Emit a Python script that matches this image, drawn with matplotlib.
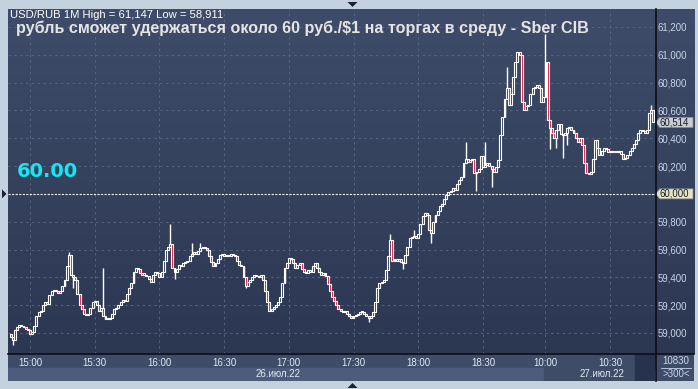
import numpy as np
import matplotlib
matplotlib.use("Agg")
import matplotlib.pyplot as plt
from matplotlib.patches import Rectangle, Polygon
from matplotlib.colors import LinearSegmentedColormap

W, H = 698, 389

# ---------------- data ----------------
header = "USD/RUB 1M High = 61,147 Low = 58,911"
headline = "рубль сможет удержаться около 60 руб./$1 на торгах в среду - Sber CIB"
level_label = "60.00"
level_value = 60.0
last_value = 60.514

time_labels = ["15:00", "15:30", "16:00", "16:30", "17:00", "17:30",
               "18:00", "18:30", "10:00", "10:30"]
time_label_idx = [9, 39, 69, 99, 129, 159, 189, 219, 248, 278]
date_labels = ["26.июл.22", "27.июл.22"]
session_start = [0, 248]
price_ticks = [59.0, 59.2, 59.4, 59.6, 59.8, 60.0, 60.2, 60.4, 60.6, 60.8, 61.0, 61.2]
volume_label = "10830"
range_label = ">300<"

first_open = 58.99
closes = [
    58.97, 58.95, 59.02, 59.04, 59.06, 59.05, 59.04, 59.03, 59.02, 58.99,
    59.01, 59.05, 59.12, 59.15, 59.16, 59.20, 59.22, 59.21, 59.27, 59.30,
    59.31, 59.30, 59.29, 59.30, 59.34, 59.38, 59.48, 59.56, 59.42, 59.40,
    59.38, 59.28, 59.20, 59.17, 59.14, 59.13, 59.14, 59.18, 59.22, 59.23,
    59.20, 59.16, 59.18, 59.12, 59.10, 59.10, 59.11, 59.14, 59.17, 59.18,
    59.20, 59.22, 59.24, 59.23, 59.28, 59.32, 59.36, 59.44, 59.47, 59.46,
    59.43, 59.42, 59.42, 59.41, 59.39, 59.37, 59.42, 59.44, 59.43, 59.40,
    59.44, 59.52, 59.60, 59.62, 59.64, 59.47, 59.44, 59.46, 59.49, 59.48,
    59.50, 59.51, 59.52, 59.55, 59.57, 59.58, 59.57, 59.59, 59.61, 59.61,
    59.61, 59.60, 59.55, 59.51, 59.48, 59.50, 59.53, 59.56, 59.57, 59.55,
    59.56, 59.55, 59.57, 59.56, 59.55, 59.52, 59.49, 59.48, 59.40, 59.34,
    59.37, 59.38, 59.40, 59.42, 59.41, 59.40, 59.42, 59.38, 59.30, 59.22,
    59.16, 59.17, 59.19, 59.20, 59.22, 59.26, 59.36, 59.47, 59.50, 59.54,
    59.53, 59.50, 59.47, 59.49, 59.50, 59.46, 59.44, 59.43, 59.45, 59.44,
    59.48, 59.50, 59.47, 59.44, 59.42, 59.43, 59.41, 59.35, 59.30, 59.26,
    59.23, 59.20, 59.17, 59.16, 59.15, 59.16, 59.14, 59.12, 59.11, 59.12,
    59.13, 59.14, 59.15, 59.15, 59.14, 59.12, 59.11, 59.12, 59.15, 59.22,
    59.32, 59.36, 59.37, 59.38, 59.45, 59.55, 59.67, 59.52, 59.53, 59.52,
    59.53, 59.51, 59.50, 59.56, 59.62, 59.68, 59.69, 59.70, 59.68, 59.71,
    59.78, 59.84, 59.86, 59.85, 59.74, 59.72, 59.80, 59.85, 59.88, 59.91,
    59.93, 59.96, 59.99, 60.01, 60.02, 60.04, 60.03, 60.07, 60.10, 60.12,
    60.22, 60.25, 60.23, 60.24, 60.25, 60.15, 60.16, 60.18, 60.27, 60.19,
    60.21, 60.22, 60.20, 60.18, 60.16, 60.19, 60.24, 60.42, 60.55, 60.68,
    60.76, 60.64, 60.72, 60.84, 60.95, 61.02, 61.00, 60.66, 60.60, 60.63,
    60.64, 60.72, 60.76, 60.77, 60.78, 60.76, 60.66, 60.70,
    60.95, 60.53, 60.47, 60.44, 60.40, 60.46, 60.50, 60.43, 60.42, 60.44,
    60.47, 60.48, 60.46, 60.44, 60.40, 60.37, 60.40, 60.35, 60.22, 60.15,
    60.14, 60.16, 60.25, 60.39, 60.33, 60.28, 60.31, 60.33, 60.32, 60.30,
    60.31, 60.30, 60.31, 60.30, 60.31, 60.29, 60.25, 60.26, 60.28, 60.31,
    60.33, 60.36, 60.39, 60.44, 60.46, 60.45, 60.44, 60.46, 60.58, 60.60,
    60.514,
]
wick_high = {27: 59.58, 43: 59.47, 74: 59.78, 84: 59.65, 88: 59.65, 176: 59.71,
             187: 59.74, 211: 60.37, 220: 60.37, 230: 60.91, 248: 61.147, 297: 60.64}
wick_low = {1: 58.911, 29: 59.32, 76: 59.39, 109: 59.32, 166: 59.08, 182: 59.46,
            195: 59.65, 216: 60.02, 223: 60.05, 250: 60.32, 253: 60.33, 256: 60.26,
            258: 60.35}

# ---------------- derived OHLC ----------------
n = len(closes)
idx = np.arange(n)
closes_a = np.array(closes)
opens_a = np.concatenate([[first_open], closes_a[:-1]])
highs = np.maximum(opens_a, closes_a)
lows = np.minimum(opens_a, closes_a)
for k, v in wick_high.items():
    highs[k] = max(highs[k], v)
for k, v in wick_low.items():
    lows[k] = min(lows[k], v)

# ---------------- figure ----------------
BORDER = "#c4d1df"
fig = plt.figure(figsize=(W / 100, H / 100), dpi=100)
fig.patch.set_facecolor(BORDER)

def fx(x):
    return x / W

def fy(y):
    return 1 - y / H

L, R, T, B = 8.3, 655.7, 9.0, 354.0
RP = 694.0      # right panel end
BB = 381.0      # bottom panel end
XMIN, XMAX = -1.06, 299.1
YMIN, YMAX = 58.849, 61.329

def xpix(i):
    return L + (i - XMIN) / (XMAX - XMIN) * (R - L)

def ypix(p):
    return T + (YMAX - p) / (YMAX - YMIN) * (B - T)

ax = fig.add_axes([fx(L), fy(B), (R - L) / W, (B - T) / H])
ax.set_xlim(XMIN, XMAX)
ax.set_ylim(YMIN, YMAX)

grad_cmap = LinearSegmentedColormap.from_list("bg", ["#2c3752", "#3e4c69"])
grad = np.linspace(0, 1, 256).reshape(-1, 1)
ax.imshow(grad, extent=[0, 1, 0, 1], transform=ax.transAxes, cmap=grad_cmap,
          aspect="auto", origin="lower", zorder=0)

# grid
for i in time_label_idx:
    ax.axvline(i, color="#56647f", lw=0.7, ls=(0, (2.5, 3.5)), zorder=1)
for p in price_ticks:
    if abs(p - level_value) > 1e-9:
        ax.axhline(p, color="#56647f", lw=0.7, ls=(0, (2.5, 3.5)), zorder=1)
ax.axhline(level_value, color="#f0f0f0", lw=0.8, ls=(0, (2, 1.2)), zorder=2)

# candles
ax.vlines(idx, lows, highs, color="white", lw=1.0, zorder=3)
up = closes_a >= opens_a
body_bot = np.minimum(opens_a, closes_a)
body_h = np.maximum(np.abs(closes_a - opens_a), 0.008)
face = np.where(up, "#2f3b57", "#e8123e")
ax.bar(idx, body_h, bottom=body_bot, width=0.9, color=face, edgecolor="white",
       linewidth=0.8, zorder=4)

for s in ax.spines.values():
    s.set_visible(False)
ax.set_xticks([])
ax.yaxis.tick_right()
shown_ticks = [p for p in price_ticks if abs(p - level_value) > 1e-9]
ax.set_yticks(shown_ticks)
ax.set_yticklabels([f"{p:.3f}".replace(".", ",") for p in shown_ticks],
                   fontsize=6.9, color="#c9d5ea", family="Liberation Sans")
ax.tick_params(axis="y", length=0, pad=1.6)

# right panel background
axr = fig.add_axes([fx(R), fy(B), (RP - R) / W, (B - T) / H], zorder=-1)
axr.imshow(grad, extent=[0, 1, 0, 1], transform=axr.transAxes, cmap=grad_cmap,
           aspect="auto", origin="lower")
axr.axis("off")

# bottom panel
axb = fig.add_axes([fx(L), fy(BB), (RP - L) / W, (BB - B) / H], zorder=-1)
axb.set_xlim(L, RP)
axb.set_ylim(BB, B)
axb.axis("off")
day2_x = xpix(session_start[1] - 0.5)
axb.add_patch(Rectangle((L, B), RP - L, 14, color="#3e4c68", zorder=0))
axb.add_patch(Rectangle((L, B + 14), day2_x - L, BB - B - 14, color="#4c5c7a", zorder=0))
axb.add_patch(Rectangle((day2_x, B + 14), 635 - day2_x, BB - B - 14, color="#3e4c68", zorder=0))
axb.add_patch(Rectangle((635, B), 19, BB - B, color="#27324d", zorder=1))
axb.add_patch(Rectangle((R, B), RP - R, BB - B, color="#3e4c68", zorder=1))
axb.plot([661, 691], [368, 368], color="#c9d5ea", lw=0.6, zorder=2)

# separators
fig.add_artist(plt.Line2D([fx(R), fx(R)], [fy(T), fy(BB)], color="#0c0f18", lw=1.2))
fig.add_artist(plt.Line2D([fx(L), fx(RP)], [fy(B), fy(B)], color="#0c0f18", lw=1.2))

# time labels
for lab, i in zip(time_labels, time_label_idx):
    fig.text(fx(xpix(i)), fy(362.5), lab, ha="center", va="center",
             fontsize=7.0, color="#e2e8f2", family="Liberation Sans")
# date labels centered over each day
fig.text(fx((L + day2_x) / 2 + 2), fy(374), date_labels[0], ha="center", va="center",
         fontsize=7.0, color="#e2e8f2", family="Liberation Sans")
fig.text(fx((day2_x + 655) / 2 + 2), fy(374), date_labels[1], ha="center", va="center",
         fontsize=7.0, color="#e2e8f2", family="Liberation Sans")
fig.text(fx(676), fy(361.5), volume_label, ha="center", va="center",
         fontsize=7.0, color="#c9d5ea", family="Liberation Sans")
fig.text(fx(676), fy(374), range_label, ha="center", va="center",
         fontsize=7.0, color="#c9d5ea", family="Liberation Sans")

# price marker boxes on the right
def marker(yc, face, text):
    pts = [(R, yc), (R + 4, yc - 5), (RP - 1, yc - 5), (RP - 1, yc + 5), (R + 4, yc + 5)]
    fig.add_artist(Polygon([(fx(px), fy(py)) for px, py in pts], closed=True,
                           transform=fig.transFigure, facecolor=face,
                           edgecolor="#8a8f98", lw=0.5))
    fig.text(fx(R + 4), fy(yc), text, ha="left", va="center", fontsize=6.9,
             color="#1a1f2a", family="Liberation Sans")

marker(ypix(last_value), "#c9ccd2", f"{last_value:.3f}".replace(".", ","))
marker(ypix(level_value), "#e6e4c0", f"{level_value:.3f}".replace(".", ","))

# texts
fig.text(fx(10), fy(14.5), header, ha="left", va="center", fontsize=8.1,
         color="white", family="Liberation Sans")
fig.text(fx(16), fy(33.5), headline, ha="left", va="baseline", fontsize=11.6,
         color="#e4e4e4", family="Liberation Sans", weight="bold")
fig.text(fx(16.5), fy(177), level_label, ha="left", va="baseline", fontsize=14,
         color="#14e6f2", family="DejaVu Sans", weight="bold")

# small triangles on border
def tri(pts):
    fig.add_artist(Polygon([(fx(px), fy(py)) for px, py in pts], closed=True,
                           transform=fig.transFigure, facecolor="#1a2233",
                           edgecolor="none"))

tri([(347.5, 2), (357.5, 2), (352.5, 7)])
tri([(347.5, 388), (357.5, 388), (352.5, 383)])
tri([(2, ypix(level_value) - 4.5), (2, ypix(level_value) + 4.5), (6.5, ypix(level_value))])

fig.savefig("out.png", dpi=100, facecolor=fig.get_facecolor())
